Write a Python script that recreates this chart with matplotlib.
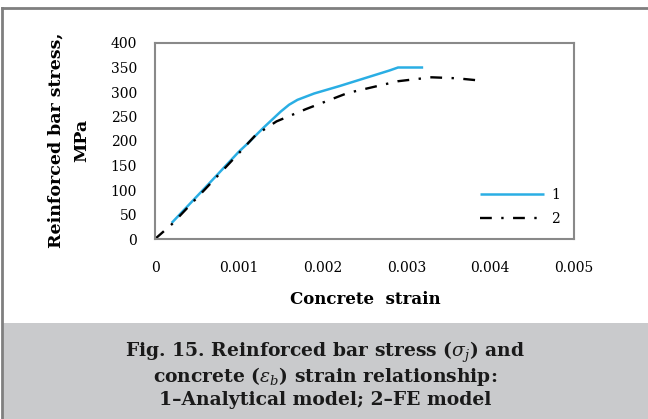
import matplotlib
matplotlib.use("Agg")
import matplotlib.pyplot as plt
from matplotlib.patches import Rectangle
from matplotlib.lines import Line2D

plt.rcParams['font.family'] = ['DejaVu Serif']
plt.rcParams['mathtext.fontset'] = 'dejavuserif'

# ---- data ----
strain_analytical = [0.0002, 0.0006, 0.0010, 0.0011, 0.0013, 0.0015, 0.0016, 0.0017,
                     0.0019, 0.0022, 0.0025, 0.0028, 0.0029, 0.0032]
stress_analytical = [33, 105, 178, 194, 228, 260, 274, 284,
                     297, 312, 328, 344, 350, 350]
strain_fe = [0.0, 0.0002, 0.0006, 0.0010, 0.0012, 0.00145, 0.0018, 0.0023,
             0.0029, 0.0033, 0.0036, 0.0039]
stress_fe = [0, 30, 102, 175, 212, 240, 265, 298, 322, 330, 328, 323]
series_labels = ['1', '2']
x_ticks = [0, 0.001, 0.002, 0.003, 0.004, 0.005]
x_tick_labels = ['0', '0.001', '0.002', '0.003', '0.004', '0.005']
y_ticks = [0, 50, 100, 150, 200, 250, 300, 350, 400]

W, H = 648, 419
fig = plt.figure(figsize=(W / 100, H / 100), dpi=100)

# outer frame and caption band
fig.patches.append(Rectangle((3 / W, 0), 1, (H - 323) / H, transform=fig.transFigure,
                             facecolor='#C9CACC', edgecolor='none', zorder=0))
fig.lines.append(Line2D([2 / W, 1], [(H - 8.5) / H, (H - 8.5) / H], transform=fig.transFigure,
                        color='#7F7F7F', linewidth=2))
fig.lines.append(Line2D([2 / W, 2 / W], [0, (H - 8.5) / H], transform=fig.transFigure,
                        color='#7F7F7F', linewidth=2))

ax = fig.add_axes([155 / W, (H - 239) / H, (574 - 155) / W, (239 - 43) / H])
ax.plot(strain_analytical, stress_analytical, color='#2AAEE4', linewidth=1.8,
        label=series_labels[0], solid_capstyle='butt')
ax.plot(strain_fe, stress_fe, color='black', linewidth=1.7, dashes=(5, 4, 1, 4),
        dash_capstyle='butt', label=series_labels[1])

ax.set_xlim(0, 0.005)
ax.set_ylim(0, 400)
ax.set_xticks(x_ticks)
ax.set_xticklabels(x_tick_labels)
ax.set_yticks(y_ticks)
ax.tick_params(length=0, labelsize=10, colors='black')
ax.tick_params(axis='x', pad=16)
ax.tick_params(axis='y', pad=13)
for s in ax.spines.values():
    s.set_color('#898989')
    s.set_linewidth(1.5)

leg = ax.legend(loc='lower right', bbox_to_anchor=((560 - 155) / 419, (239 - 226) / 196),
                frameon=False, fontsize=10, handlelength=4.6, handletextpad=0.5,
                labelspacing=0.75, borderaxespad=0, borderpad=0)

fig.text(69 / W, (H - 140) / H, 'Reinforced bar stress,\nMPa', rotation=90,
         ha='center', va='center', fontsize=12.5, fontweight='bold', linespacing=1.7,
         multialignment='center')
fig.text(365 / W, (H - 299) / H, 'Concrete  strain', ha='center', va='center',
         fontsize=12, fontweight='bold')

cap_lines = [r'Fig. 15. Reinforced bar stress ($\sigma_j$) and',
             r'concrete ($\varepsilon_b$) strain relationship:',
             '1\u2013Analytical model; 2\u2013FE model']
for i, t in enumerate(cap_lines):
    fig.text(325 / W, (H - (352 + 24 * i)) / H, t, ha='center', va='center',
             fontsize=13.5, fontweight='bold', color='#1A1A1A')

fig.savefig('out.png', dpi=100)
